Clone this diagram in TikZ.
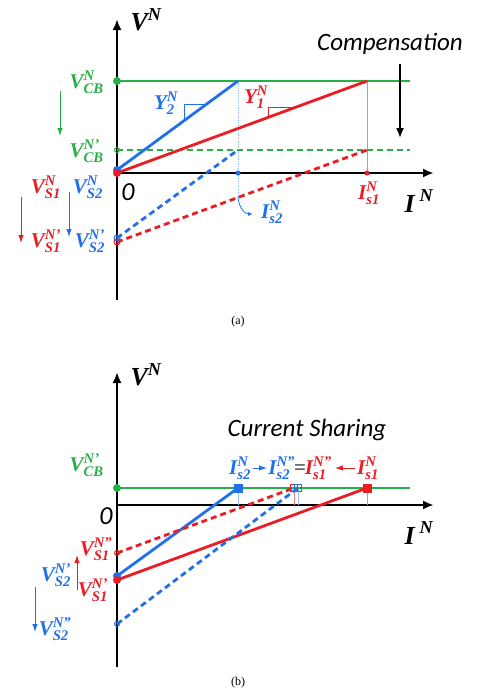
\documentclass[tikz,border=0pt]{standalone}
\usepackage{amsmath}
\usepackage{fontspec}
\setmainfont{Liberation Serif}
\newfontfamily\calfont{Carlito}
\usetikzlibrary{arrows.meta, positioning}

\definecolor{cgreen}{RGB}{40,176,72}
\definecolor{cblue}{RGB}{32,112,236}
\definecolor{cred}{RGB}{236,28,36}

\newcommand{\bi}[1]{\text{\bfseries\itshape #1}}
\newcommand{\vlbl}[3]{$\bi{#1}^{\bi{#2}}_{\bi{#3}}$}

\begin{document}
\begin{tikzpicture}[x=1pt, y=-1pt]

\tikzset{
  axis/.style   = {line width=2.8pt, black, -{Latex[length=11pt,width=9pt]}},
  gline/.style  = {line width=2.8pt, cgreen},
  bline/.style  = {line width=2.8pt, cblue},
  rline/.style  = {line width=2.8pt, cred},
  gdash/.style  = {gline, dash pattern=on 6pt off 4pt},
  bdash/.style  = {bline, dash pattern=on 6pt off 4pt},
  rdash/.style  = {rline, dash pattern=on 6pt off 4pt},
  bthin/.style  = {cblue!45, line width=0.7pt},
  rthin/.style  = {cred!55, line width=0.7pt},
  larr/.style   = {line width=1pt, -{Latex[length=8pt,width=5.5pt]}},
  dot/.style    = {circle, inner sep=0pt, minimum size=8pt},
  odot/.style   = {circle, inner sep=0pt, minimum size=6pt, draw, line width=1pt},
  sqr/.style    = {rectangle, inner sep=0pt, minimum size=9pt},
  osqr/.style   = {rectangle, inner sep=0pt, minimum size=7pt, draw, line width=0.8pt},
  mlbl/.style   = {font=\fontsize{21}{22}\selectfont, inner sep=0pt},
  biglbl/.style = {font=\fontsize{26}{27}\selectfont, inner sep=0pt},
  note/.style   = {font=\fontsize{25}{26}\selectfont\calfont\itshape, inner sep=0pt},
  captxt/.style = {font=\fontsize{12}{13}\selectfont, inner sep=0pt}
}

\useasboundingbox (0,0) rectangle (477,696);

%% ── (a) points ──────────────────────────────────────────────────
\coordinate (Oa)   at (117,173);
\coordinate (ya0)  at (117,300);
\coordinate (ya1)  at (117,19);
\coordinate (xa1)  at (434,173);
\coordinate (cbA)  at (117,81);
\coordinate (cbB)  at (410,81);
\coordinate (cbpA) at (117,150);
\coordinate (cbpB) at (410,150);
\coordinate (b2)   at (238,81);
\coordinate (r1)   at (367,81);
\coordinate (b2p)  at (238,150);
\coordinate (r1p)  at (367,150);
\coordinate (vs2p) at (117,238);
\coordinate (vs1p) at (117,242);
\coordinate (is2)  at (238,173);
\coordinate (is1)  at (367,173);
\coordinate (is2e) at (238,196);

%% ── (a) axes ────────────────────────────────────────────────────
\draw[axis] (ya0) -- (ya1);
\draw[axis] (Oa) -- (xa1);

%% ── (a) curves ──────────────────────────────────────────────────
\draw[bthin, densely dotted] (b2) -- (is2e);
\draw[rthin] (r1) -- (is1);
\draw[gline] (cbA) -- (cbB);
\draw[gdash] (cbpA) -- (cbpB);
\draw[bline] (117,170) -- (b2);
\draw[rline] (Oa) -- (r1);
\draw[bdash] (vs2p) -- (b2p);
\draw[rdash] (vs1p) -- (r1p);

%% slope markers
\draw[cblue, line width=1pt] (184,121) -- (184,104) -- (207,104);
\draw[cred, line width=1pt] (268,117.5) -- (268,107) -- (295,107);

%% markers
\node[dot, fill=cgreen] (mcb) at (cbA) {};
\node[odot, draw=cgreen, minimum size=5pt] (mcbp) at (cbpA) {};
\node[dot, fill=cblue] (mO2) at (117,170) {};
\node[dot, fill=cred] (mO1) at (Oa) {};
\node[dot, fill=cblue, minimum size=5pt] (mis2) at (is2) {};
\node[dot, fill=cred, minimum size=5pt] (mis1) at (is1) {};
\node[odot, draw=cblue] (mvs2) at (vs2p) {};
\node[odot, draw=cred] (mvs1) at (vs1p) {};

%% ── (a) labels ──────────────────────────────────────────────────
\node[biglbl] (va) at (146,20) {$\bi{V}^{\bi{N}}$};
\node[mlbl, text=cgreen, anchor=east] (lcb)  at (104,82)  {\vlbl{V}{N}{CB}};
\node[mlbl, text=cgreen, anchor=east] (lcbp) at (104,151) {\vlbl{V}{N'}{CB}};
\node[mlbl, text=cblue] (ly2) at (166,103) {\vlbl{Y}{N}{2}};
\node[mlbl, text=cred]  (ly1) at (256,97)  {\vlbl{Y}{N}{1}};
\node[note, anchor=west] (comp) at (317,44) {Compensation};
\node[note, font=\fontsize{26}{27}\selectfont\calfont\itshape] (zeroa) at (128,192) {0};
\node[mlbl, text=cred]  (lis1) at (369,193) {\vlbl{I}{N}{s1}};
\node[mlbl, text=cblue] (lis2) at (272,212) {\vlbl{I}{N}{s2}};
\node[biglbl] (ia) at (419,201) {$\bi{I}^{\;\bi{N}}$};
\node[mlbl, text=cred]  (ls1)  at (46,187) {\vlbl{V}{N}{S1}};
\node[mlbl, text=cblue] (ls2)  at (88,187) {\vlbl{V}{N}{S2}};
\node[mlbl, text=cred]  (ls1p) at (46,241) {\vlbl{V}{N'}{S1}};
\node[mlbl, text=cblue] (ls2p) at (90,241) {\vlbl{V}{N'}{S2}};
\node[captxt] (capa) at (238,322) {(a)};

%% ── (a) arrows ──────────────────────────────────────────────────
\coordinate (ga0) at (60,91);   \coordinate (ga1) at (60,136);
\coordinate (ra0) at (21,197);  \coordinate (ra1) at (21,243);
\coordinate (ba0) at (69,192);  \coordinate (ba1) at (69,237);
\coordinate (ka0) at (400,64);  \coordinate (ka1) at (400,138);
\draw[larr, cgreen] (ga0) -- (ga1);
\draw[larr, cred]   (ra0) -- (ra1);
\draw[larr, cblue]  (ba0) -- (ba1);
\draw[line width=1.6pt, -{Latex[length=10pt,width=8pt]}] (ka0) -- (ka1);
\draw[cblue, line width=0.8pt, -{Latex[length=5pt,width=4pt]}] (is2e) to[out=-90, in=180] (253,214);

%% ── (b) points ──────────────────────────────────────────────────
\coordinate (Ob)   at (117,505);
\coordinate (yb0)  at (117,667);
\coordinate (yb1)  at (117,372);
\coordinate (xb1)  at (434,505);
\coordinate (gA)   at (117,488);
\coordinate (gB)   at (410,488);
\coordinate (sb2)  at (238,488);
\coordinate (sr1)  at (367,488);
\coordinate (sr1p) at (294,488);
\coordinate (sb2p) at (298,488);
\coordinate (vb2)  at (117,576);
\coordinate (vb1)  at (117,580);
\coordinate (vb1p) at (117,553);
\coordinate (vb2p) at (117,624);

%% ── (b) axes ────────────────────────────────────────────────────
\draw[axis] (yb0) -- (yb1);
\draw[axis] (Ob) -- (xb1);

%% ── (b) curves ──────────────────────────────────────────────────
\draw[bthin] (sb2) -- (238,505);
\draw[rthin] (sr1) -- (367,505);
\draw[rthin] (sr1p) -- (294,505);
\draw[bthin] (sb2p) -- (298,505);
\draw[gline] (gA) -- (gB);
\draw[bline] (vb2) -- (sb2);
\draw[rline] (vb1) -- (sr1);
\draw[rdash] (vb1p) -- (sr1p);
\draw[bdash] (vb2p) -- (sb2p);

%% markers
\node[dot, fill=cgreen] (mg) at (gA) {};
\node[sqr, fill=cblue] (msb2) at (sb2) {};
\node[sqr, fill=cred] (msr1) at (sr1) {};
\node[osqr, draw=cred] (msr1p) at (sr1p) {};
\node[osqr, draw=cblue] (msb2p) at (sb2p) {};
\node[dot, fill=cblue] (mvb2) at (vb2) {};
\node[dot, fill=cred] (mvb1) at (vb1) {};
\node[odot, draw=cred, minimum size=5pt] (mvb1p) at (vb1p) {};
\node[odot, draw=cblue, minimum size=5pt] (mvb2p) at (vb2p) {};

%% ── (b) labels ──────────────────────────────────────────────────
\node[biglbl] (vb) at (146,375) {$\bi{V}^{\bi{N}}$};
\node[mlbl, text=cgreen, anchor=east] (lcbpb) at (104,465) {\vlbl{V}{N'}{CB}};
\node[note] (share) at (307,430) {Current Sharing};
\node[note, font=\fontsize{26}{27}\selectfont\calfont\itshape] (zerob) at (106,516) {0};
\node[biglbl] (ib) at (419,533) {$\bi{I}^{\;\bi{N}}$};
\node[mlbl, text=cblue] (t1) at (240,468) {\vlbl{I}{N}{s2}};
\node[mlbl] (t23) at (300,468)
      {{\color{cblue}\vlbl{I}{N''}{s2}}\kern-1pt{\color{black!70}\bfseries=}\kern-1pt{\color{cred}\vlbl{I}{N''}{s1}}};
\node[mlbl, text=cred]  (t4) at (368,468) {\vlbl{I}{N}{s1}};
\draw[larr, cblue] (t1.east) ++(2,0) coordinate (tb0) -- ++(14,0) coordinate (tb1);
\draw[larr, cred]  (t4.west) ++(-2,0) coordinate (tr0) -- ++(-20,0) coordinate (tr1);
\node[mlbl, text=cred]  (lb1pp) at (96,549) {\vlbl{V}{N''}{S1}};
\node[mlbl, text=cred]  (lb1p)  at (93,590) {\vlbl{V}{N'}{S1}};
\node[mlbl, text=cblue] (lb2p)  at (56,575) {\vlbl{V}{N'}{S2}};
\node[mlbl, text=cblue] (lb2pp) at (55,629) {\vlbl{V}{N''}{S2}};
\node[captxt] (capb) at (238,683) {(b)};

%% ── (b) arrows ──────────────────────────────────────────────────
\coordinate (rb0) at (77,590);  \coordinate (rb1) at (77,555);
\coordinate (bb0) at (35,587);  \coordinate (bb1) at (35,632);
\draw[larr, cred]  (rb0) -- (rb1);
\draw[larr, cblue] (bb0) -- (bb1);

\end{tikzpicture}
\end{document}
